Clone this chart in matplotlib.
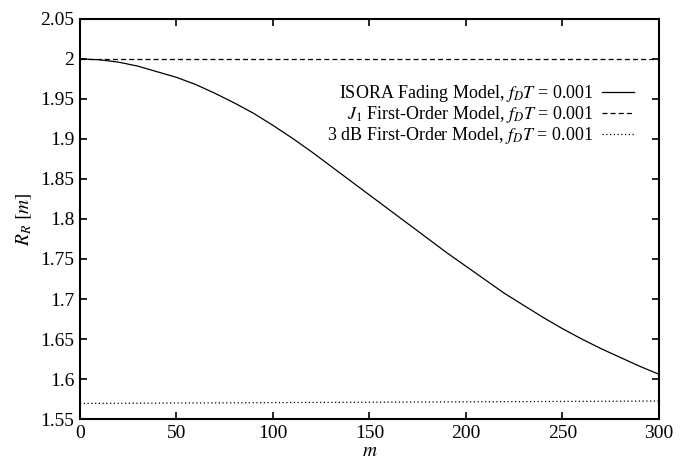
import matplotlib
matplotlib.use('Agg')
import matplotlib.pyplot as plt

plt.rcParams['font.family'] = ['Liberation Serif', 'DejaVu Serif']
plt.rcParams['mathtext.fontset'] = 'stix'

# lag index and correlation values
m_isora = [0, 10, 20, 30, 40, 50, 60, 70, 80, 90, 100, 110, 120, 130, 140,
           150, 160, 170, 180, 190, 200, 210, 220, 230, 240, 250, 260, 270,
           280, 290, 300]
r_isora = [2.000, 1.999, 1.996, 1.991, 1.984, 1.977, 1.968, 1.957, 1.945,
           1.932, 1.917, 1.901, 1.884, 1.866, 1.848, 1.830, 1.812, 1.794,
           1.776, 1.758, 1.741, 1.724, 1.707, 1.692, 1.677, 1.663, 1.650,
           1.638, 1.627, 1.616, 1.606]
m_flat = [0, 300]
r_j1 = [2.0, 2.0]
r_3db = [1.5695, 1.5725]

labels = [r'ISORA Fading Model, $f_D T$ = 0.001',
          r'$J_1$ First-Order Model, $f_D T$ = 0.001',
          r'3 dB First-Order Model, $f_D T$ = 0.001']

xticks = [0, 50, 100, 150, 200, 250, 300]
yticks = [1.55, 1.6, 1.65, 1.7, 1.75, 1.8, 1.85, 1.9, 1.95, 2.0, 2.05]

fig = plt.figure(figsize=(6.81, 4.62), dpi=100)
ax = fig.add_axes([0.1175, 0.093, 0.85, 0.866])

ax.plot(m_isora, r_isora, color='black', lw=0.9, label=labels[0])
ax.plot(m_flat, r_j1, color='black', lw=0.9, ls=(0, (4, 2.5)), label=labels[1])
ax.plot(m_flat, r_3db, color='black', lw=0.9, ls=(0, (1, 2)), label=labels[2])

ax.set_xlim(0, 300)
ax.set_ylim(1.55, 2.05)
ax.set_xticks(xticks)
ax.set_yticks(yticks)
ax.set_yticklabels([f'{v:g}' for v in yticks])
ax.tick_params(direction='in', top=True, right=True, length=5, width=1.2,
               labelsize=14, pad=4)
for s in ax.spines.values():
    s.set_linewidth(1.5)

ax.set_xlabel(r'$m$', fontsize=14, labelpad=1)
ax.set_ylabel(r'$R_R\ [m]$', fontsize=14, labelpad=5)

ax.legend(loc='upper right', bbox_to_anchor=(0.957, 0.84), frameon=False,
          markerfirst=False, fontsize=13, handlelength=1.75,
          handletextpad=0.5, labelspacing=0.0, borderpad=0,
          borderaxespad=0)

fig.savefig('out.png', dpi=100)
